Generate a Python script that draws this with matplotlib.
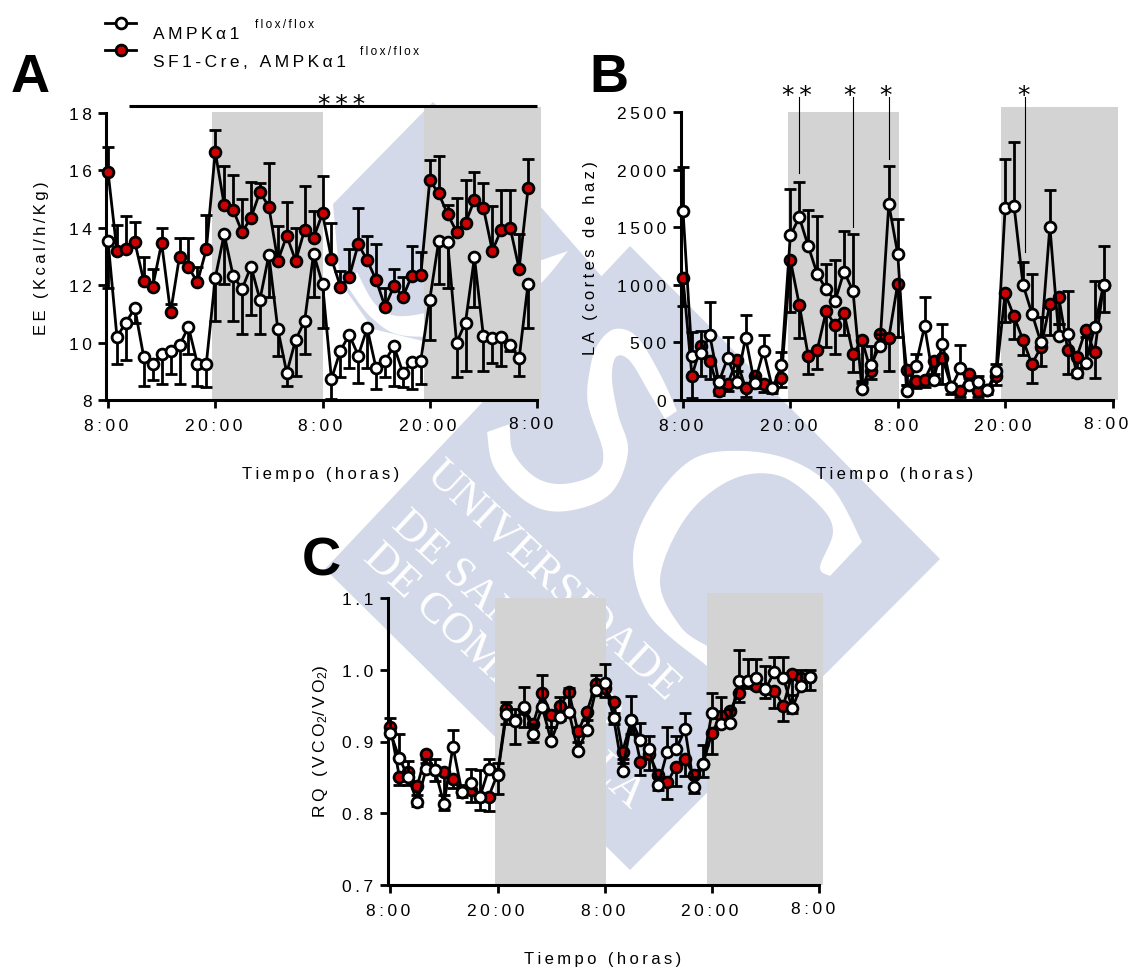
#!/usr/bin/python3

"""plot.py
Description:
    energy expenditure, locomotor activity and RQ panels with the
    university watermark behind them
"""

import numpy as np
import matplotlib
matplotlib.use("Agg")
import matplotlib.pyplot as plt
from matplotlib.patches import Polygon, Rectangle
from matplotlib.transforms import ScaledTranslation

plt.rcParams['font.family'] = ['Liberation Sans', 'DejaVu Sans']
plt.rcParams['mathtext.default'] = 'regular'

W, H = 1128, 970
RED = '#cc0000'
GRAY = '#d3d3d3'
BLUE = '#d3d9e8'

hours = list(range(48))
time_ticks = [0, 12, 24, 36, 48]
time_labels = ['8:00', '20:00', '8:00', '20:00', '8:00']

# panel A, energy expenditure
ee_red = [15.95, 13.2, 13.25, 13.5, 12.15, 11.95, 13.47, 11.05, 13.0, 12.63, 12.1, 13.25,
          16.65, 14.8, 14.63, 13.85, 14.35, 15.25, 14.73, 12.85, 13.72, 12.85, 13.93, 13.65,
          14.5, 12.93, 11.95, 12.3, 13.43, 12.87, 12.18, 11.25, 11.97, 11.6, 12.33, 12.35,
          15.65, 15.2, 14.47, 13.87, 14.17, 14.97, 14.7, 13.2, 13.93, 14.0, 12.57, 15.37]
ee_red_upper = [16.8, 14.1, 14.4, 14.2, 13.0, 12.55, 14.0, 11.35, 13.65, 13.65, 12.65, 14.45,
                17.4, 16.15, 15.85, 15.0, 15.6, 15.55, 16.25, 14.05, 14.9, 14.0, 15.45, 14.6,
                15.8, 14.15, 12.5, 13.25, 14.7, 13.7, 13.45, 11.9, 12.55, 12.3, 13.35, 13.15,
                16.35, 16.5, 14.8, 15.05, 15.65, 15.95, 15.55, 14.75, 15.3, 15.3, 13.8, 16.4]
ee_white = [13.55, 10.2, 10.7, 11.2, 9.5, 9.27, 9.6, 9.7, 9.9, 10.55, 9.27, 9.27,
            12.25, 13.78, 12.33, 11.87, 12.65, 11.5, 13.05, 10.47, 8.95, 10.1, 10.75, 13.1,
            12.05, 8.73, 9.72, 10.27, 9.55, 10.5, 9.1, 9.37, 9.87, 8.95, 9.32, 9.37,
            11.5, 13.53, 13.5, 10.0, 10.7, 12.97, 10.23, 10.17, 10.2, 9.92, 9.45, 12.05]
ee_white_lower = [11.9, 9.25, 9.4, 10.7, 8.5, 8.7, 8.55, 8.9, 8.55, 9.6, 8.5, 8.45,
                  10.75, 12.05, 10.75, 10.3, 10.95, 10.3, 11.6, 9.55, 8.5, 8.85, 9.6, 11.6,
                  10.5, 8.05, 8.8, 9.1, 8.6, 9.1, 8.4, 8.8, 8.5, 8.45, 8.4, 8.55,
                  10.1, 12.05, 11.9, 8.8, 9.0, 11.25, 9.0, 9.3, 9.2, 9.7, 8.85, 10.5]

# panel B, locomotor activity
la_white = [1640, 380, 410, 560, 155, 365, 155, 540, 145, 425, 100, 300,
            1430, 1585, 1335, 1095, 960, 860, 1115, 945, 95, 305, 470, 1700,
            1270, 75, 295, 640, 170, 490, 110, 275, 130, 155, 90, 250,
            1670, 1685, 1000, 750, 500, 1505, 555, 570, 235, 325, 630, 1000]
la_white_upper = [2020, 590, 600, 850, 210, 550, 250, 740, 210, 560, 120, 420,
                  1830, 1895, 1650, 1600, 1180, 1215, 1470, 1440, 150, 470, 570, 2030,
                  1570, 130, 400, 895, 230, 660, 140, 480, 190, 210, 120, 310,
                  2090, 2240, 1195, 1090, 720, 1825, 660, 950, 260, 550, 1030, 1340]
la_red = [1055, 210, 470, 340, 75, 140, 345, 100, 210, 140, 100, 195,
          1215, 825, 380, 435, 770, 650, 755, 400, 520, 250, 575, 540,
          1010, 260, 165, 175, 340, 365, 110, 80, 225, 80, 90, 210,
          925, 725, 520, 310, 460, 830, 890, 435, 370, 610, 415, 1000]
la_red_lower = [820, 15, 210, 180, 40, 75, 170, 30, 100, 70, 60, 110,
                760, 540, 225, 265, 460, 400, 560, 240, 165, 185, 460, 250,
                550, 130, 100, 110, 170, 140, 50, 30, 130, 30, 50, 130,
                680, 530, 390, 145, 295, 560, 660, 230, 200, 320, 195, 760]

# panel C, respiratory quotient
rq_white = [0.912, 0.877, 0.85, 0.816, 0.861, 0.86, 0.813, 0.893, 0.83, 0.842, 0.822, 0.861,
            0.853, 0.939, 0.929, 0.948, 0.911, 0.948, 0.901, 0.934, 0.941, 0.887, 0.916, 0.972,
            0.982, 0.933, 0.859, 0.93, 0.902, 0.89, 0.839, 0.886, 0.889, 0.917, 0.837, 0.868,
            0.94, 0.924, 0.926, 0.985, 0.984, 0.989, 0.973, 0.997, 0.989, 0.946, 0.978, 0.99]
rq_white_upper = [0.933, 0.91, 0.873, 0.825, 0.875, 0.875, 0.825, 0.916, 0.84, 0.862, 0.86, 0.875,
                  0.87, 0.955, 0.945, 0.976, 0.925, 0.993, 0.92, 0.962, 0.975, 0.9, 0.93, 0.992,
                  1.008, 0.94, 0.875, 0.963, 0.926, 0.908, 0.85, 0.92, 0.908, 0.94, 0.85, 0.895,
                  0.968, 0.962, 0.945, 1.028, 1.015, 1.015, 1.005, 1.018, 1.018, 0.965, 1.0, 1.0]
rq_red = [0.92, 0.851, 0.858, 0.838, 0.883, 0.86, 0.857, 0.848, 0.83, 0.832, 0.822, 0.823,
          0.855, 0.945, 0.93, 0.945, 0.925, 0.967, 0.937, 0.95, 0.969, 0.914, 0.941, 0.98,
          0.975, 0.955, 0.886, 0.93, 0.872, 0.882, 0.853, 0.843, 0.865, 0.875, 0.853, 0.868,
          0.912, 0.935, 0.942, 0.967, 0.985, 0.978, 0.973, 0.971, 0.95, 0.994, 0.988, 0.99]
rq_red_lower = [0.91, 0.84, 0.84, 0.81, 0.87, 0.845, 0.805, 0.835, 0.822, 0.815, 0.805, 0.803,
                0.827, 0.925, 0.897, 0.92, 0.9, 0.945, 0.92, 0.93, 0.94, 0.885, 0.915, 0.965,
                0.962, 0.925, 0.87, 0.91, 0.853, 0.86, 0.832, 0.82, 0.838, 0.852, 0.828, 0.85,
                0.883, 0.92, 0.925, 0.955, 0.975, 0.973, 0.96, 0.947, 0.929, 0.94, 0.975, 0.972]


def spaced(text, gap='\u2009'):
    # the original labels have wide letter spacing
    return gap.join(text)


def curve(pts, steps=12):
    """open Catmull-Rom curve through the points, ends stay sharp"""
    pts = np.array(pts, dtype=float)
    padded = np.vstack([pts[0], pts, pts[-1]])
    out = []
    for i in range(1, len(padded) - 2):
        p0, p1, p2, p3 = padded[i - 1], padded[i], padded[i + 1], padded[i + 2]
        for t in np.linspace(0, 1, steps, endpoint=False):
            out.append(0.5 * (2 * p1 + (p2 - p0) * t + (2 * p0 - 5 * p1 + 4 * p2 - p3) * t ** 2
                              + (3 * p1 - p0 - 3 * p2 + p3) * t ** 3))
    out.append(pts[-1])
    return np.array(out)


def cut_out(ov, edge1, edge2):
    # white band between two edges, straight across at both ends
    ov.add_patch(Polygon(np.vstack([curve(edge1), curve(edge2)[::-1]]), fc='white', ec='none'))


def draw_watermark(ov):
    # two overlapping diamonds
    ov.add_patch(Polygon([(325, 570), (630, 247), (940, 560), (630, 871)], fc=BLUE, ec='none'))
    ov.add_patch(Polygon([(433, 103), (333, 205), (340, 283), (373, 330), (423, 342),
                          (520, 420), (610, 287), (540, 207)], fc=BLUE, ec='none'))
    # U
    cut_out(ov, [(357, 273), (377, 307), (407, 317), (470, 300), (520, 270), (568, 252)],
            [(347, 287), (373, 320), (407, 337), (480, 330), (535, 290), (568, 252)])
    # S
    cut_out(ov, [(677, 412), (660, 375), (637, 338), (615, 330), (598, 345), (590, 370), (588, 405),
                 (603, 453), (595, 475), (563, 485), (535, 478), (513, 453), (510, 425)],
            [(665, 420), (650, 395), (630, 362), (616, 358), (612, 380), (618, 415),
             (628, 453), (610, 495), (567, 512), (530, 505), (495, 470), (487, 433)])
    # C
    cut_out(ov, [(862, 543), (833, 490), (793, 462), (743, 452), (693, 460), (653, 503),
                 (633, 557), (650, 617), (707, 667)],
            [(830, 577), (820, 568), (833, 533), (820, 507), (780, 477), (733, 480), (687, 517),
             (660, 580), (680, 627), (707, 647)])
    for txt, x, y in [('UNIVERSIDADE', 431, 468), ('DE SANTIAGO', 398, 518), ('DE COMPOSTELA', 370, 551)]:
        ov.text(x, y, txt, color='white', fontsize=32, family='Liberation Serif', rotation=-43,
                rotation_mode='anchor', ha='left', va='center')


def draw_panel(box, ylim, yticks, ylabels, spans, tops):
    """box: spine, x(0), x(48), y top, y bottom in picture pixels"""
    spine, x0, x48, ytop, ybot = box
    ax = fig.add_axes([spine / W, 1 - ybot / H, (x48 - spine) / W, (ybot - ytop) / H], zorder=2)
    ax.patch.set_alpha(0)
    ax.set_xlim((spine - x0) / ((x48 - x0) / 48), 48)
    ax.set_ylim(*ylim)
    for (a, b), top in zip(spans, tops):
        ax.add_patch(Rectangle((a, ylim[0]), b - a, top - ylim[0], fc=GRAY, ec='none', zorder=0, clip_on=False))
    ax.spines['top'].set_visible(False)
    ax.spines['right'].set_visible(False)
    ax.spines['left'].set_linewidth(2.2)
    ax.spines['bottom'].set_linewidth(2.2)
    ax.spines['left'].set_zorder(1)
    ax.spines['bottom'].set_zorder(1)
    ax.set_xticks(time_ticks)
    ax.set_xticklabels([spaced(t) for t in time_labels])
    ax.set_yticks(yticks)
    ax.set_yticklabels([spaced(t) for t in ylabels])
    ax.tick_params(axis='both', width=2, length=5.5, labelsize=12.5)
    ax.tick_params(axis='x', pad=7.5)
    ax.tick_params(axis='y', pad=5)
    # the tick labels sit a little left of their ticks, the last one more so
    labels = ax.get_xticklabels()
    for i, lab in enumerate(labels):
        dx = -6 if i == 4 else -2
        dy = 2 if i == 4 else 0
        lab.set_transform(lab.get_transform() + ScaledTranslation(dx / 100, dy / 100, fig.dpi_scale_trans))
    return ax


def draw_series(ax, y, err, color):
    ax.vlines(hours, y, err, color='black', lw=2, zorder=3, clip_on=False)
    ax.plot(hours, err, ls='none', marker='_', ms=8.5, mew=2, color='black', zorder=3, clip_on=False)
    ax.plot(hours, y, color='black', lw=2, marker='o', ms=7.8, mew=2, mfc=color, mec='black',
            zorder=3, clip_on=False)


fig = plt.figure(figsize=(W / 100, H / 100), dpi=100)
ov = fig.add_axes([0, 0, 1, 1], zorder=1)
ov.set_xlim(0, W)
ov.set_ylim(H, 0)
ov.axis('off')
draw_watermark(ov)

top = fig.add_axes([0, 0, 1, 1], zorder=3)
top.set_xlim(0, W)
top.set_ylim(H, 0)
top.axis('off')

ax_a = draw_panel((106, 108, 537, 114, 401), (8, 18), [8, 10, 12, 14, 16, 18],
                  ['8', '10', '12', '14', '16', '18'], [(11.6, 24.0), (35.4, 48.4)], [18.04, 18.2])
draw_series(ax_a, ee_red, ee_red_upper, RED)
draw_series(ax_a, ee_white, ee_white_lower, 'white')

ax_b = draw_panel((681, 683, 1112.5, 113, 401), (0, 2500), [0, 500, 1000, 1500, 2000, 2500],
                  ['0', '500', '1000', '1500', '2000', '2500'], [(11.7, 24.1), (35.5, 48.6)], [2500, 2543])
draw_series(ax_b, la_red, la_red_lower, RED)
draw_series(ax_b, la_white, la_white_upper, 'white')

ax_c = draw_panel((388, 390.4, 819, 599, 886), (0.7, 1.1), [0.7, 0.8, 0.9, 1.0, 1.1],
                  ['0.7', '0.8', '0.9', '1.0', '1.1'], [(11.7, 24.1), (35.45, 48.5)], [1.1, 1.107])
draw_series(ax_c, rq_red, rq_red_lower, RED)
draw_series(ax_c, rq_white, rq_white_upper, 'white')

# axis titles
for x, y in [(321, 475), (895, 475), (603, 960)]:
    top.text(x, y, spaced('Tiempo (horas)'), fontsize=12, ha='center', va='center')
top.text(42, 258, spaced('EE (Kcal/h/Kg)'), fontsize=12, rotation=90, ha='center', va='center')
top.text(590, 258, spaced('LA (cortes de haz)'), fontsize=12, rotation=90, ha='center', va='center')
top.text(321, 741, spaced('RQ (VCO') + '$_2$' + spaced('/VO') + '$_2$)', fontsize=12.5, rotation=90,
         ha='center', va='center')

# panel letters
for letter, x, y in [('A', 11, 92), ('B', 589, 92), ('C', 302, 576)]:
    top.text(x, y, letter, fontsize=39, fontweight='bold', ha='left', va='baseline')

# legend
top.plot([105, 136], [24, 24], color='black', lw=2, marker='none')
top.plot([121], [24], marker='o', ms=7.8, mew=2, mfc='white', mec='black')
top.plot([105, 136], [51, 51], color='black', lw=2, marker='none')
top.plot([121], [51], marker='o', ms=7.8, mew=2, mfc=RED, mec='black')
top.text(153, 39, spaced('AMPK\u03b11'), fontsize=12.5, ha='left', va='baseline')
top.text(153, 67, spaced('SF1-Cre, AMPK\u03b11'), fontsize=12.5, ha='left', va='baseline')
top.text(255, 28, spaced('flox/flox'), fontsize=8.5, ha='left', va='baseline')
top.text(360, 55, spaced('flox/flox'), fontsize=8.5, ha='left', va='baseline')

# significance marks
top.plot([129, 537], [107, 107], color='black', lw=2.2, solid_capstyle='butt')
top.text(342, 105, '*\u2009*\u2009*', fontsize=18, family='DejaVu Sans', ha='center', va='center')
for x, x_line, y_end, stars in [(797, 799, 174, '*\u2009*'), (850, 852.5, 228, '*'), (886, 888.6, 160, '*'),
                                (1023, 1025, 253, '*')]:
    top.text(x, 96, stars, fontsize=18, family='DejaVu Sans', ha='center', va='center')
    top.plot([x_line, x_line], [98, y_end], color='black', lw=0.8)

fig.savefig('out.png', dpi=100)
